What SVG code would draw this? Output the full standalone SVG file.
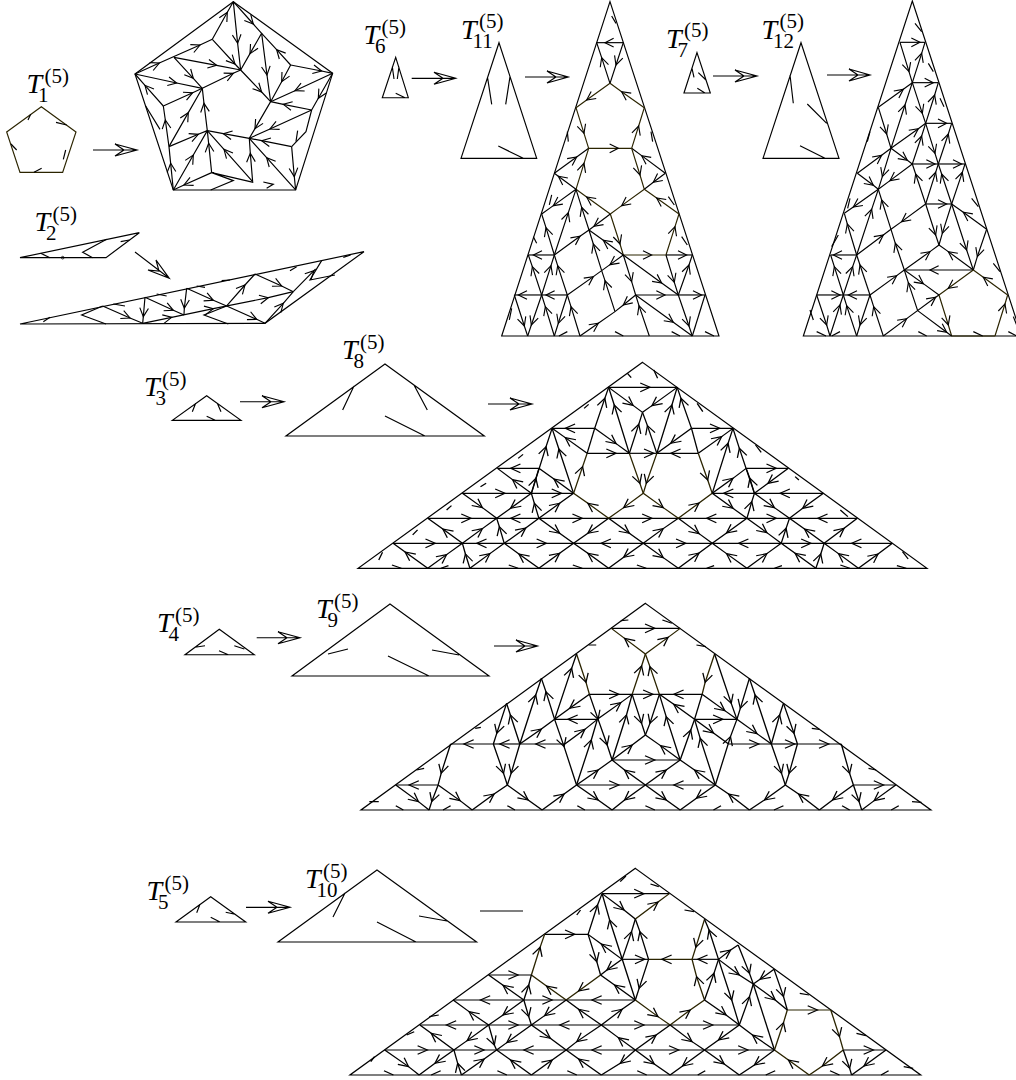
<svg xmlns="http://www.w3.org/2000/svg" width="1016" height="1080" viewBox="0 0 1016 1080">
<style>
text{font-family:"Liberation Serif","Times New Roman",serif;fill:#000}
.t{font-size:28px;font-style:italic}
.s{font-size:21px}
.g{fill:none;stroke:#000;stroke-width:3.5;stroke-linejoin:miter;marker-mid:url(#h)}
.n{marker:none}
.o{stroke:#2b2400}
.c{fill:none;stroke:#000;stroke-width:1.15}
</style>
<defs>
<marker id="h" markerUnits="userSpaceOnUse" orient="auto" markerWidth="1" markerHeight="1" refX="0" refY="0" style="overflow:visible"><path d="M-26-13L0 0L-26 13" fill="none" stroke="#000" stroke-width="3.4"/></marker>
</defs>
<rect width="1016" height="1080" fill="#fff"/>

<g id="T1">
<text><tspan class="t" x="26.500" y="93">T</tspan><tspan class="s" x="38" y="102">1</tspan><tspan class="s" x="44.500" y="83">(5)</tspan></text>
<g class="g" transform="scale(.3333)">
<path class="n o" d="M124 320 228 396 188 517 60 517 20 396Z"/>
<path class="n" d="M92 343 84 360M168 367 200 375M190 478 197 450M33 432 50 450M102 517 125 505"/>
</g>
</g>
<g id="T1-tiling" class="g" transform="scale(.3333)">
<path class="n" d="M700 5 998 220 887 570 520 570 405 222Z"/>
<path d="M405 222 530 249 607 265"/>
<path d="M405 222 478 189 600 135 637 118"/>
<path d="M637 118 682 37 700 5"/>
<path d="M700 5 713 130 722 210"/>
<path d="M637 118 705 192 722 210"/>
<path d="M522 172 650 196 722 210"/>
<path d="M522 172 580 235 607 265"/>
<path d="M490 318 578 278 607 265"/>
<path d="M607 265 700 220 722 210"/>
<path d="M490 318 435 256 405 222"/>
<path d="M507 440 496 360 490 318"/>
<path class="n" d="M437 318 480 388M893 392 888 425"/>
<path d="M507 440 565 338 607 265"/>
<path d="M622 392 612 310 607 265"/>
<path d="M507 440 595 403 622 392"/>
<path d="M520 570 512 490 507 440"/>
<path d="M520 570 580 465 622 392"/>
<path d="M635 518 626 430 622 392"/>
<path d="M635 518 552 555 520 570"/>
<path d="M758 545 672 448 622 392"/>
<path class="n" d="M635 518 700 542 632 570M635 518 760 547M790 546 820 553 800 565"/>
<path d="M758 545 751 460 748 415"/>
<path d="M887 570 800 473 748 415"/>
<path d="M748 415 670 401 622 392"/>
<path d="M875 440 785 422 748 415"/>
<path d="M875 440 883 530 887 570"/>
<path class="n" d="M875 440 918 395 935 330"/>
<path d="M935 330 810 387 748 415"/>
<path d="M812 305 765 386 748 415"/>
<path d="M935 330 850 313 812 305"/>
<path d="M998 220 885 272 812 305"/>
<path d="M722 210 785 276 812 305"/>
<path d="M785 100 801 225 812 305"/>
<path d="M785 100 750 161 722 210"/>
<path d="M872 195 830 149 785 100"/>
<path d="M872 195 845 245 812 305"/>
<path d="M872 195 965 213 998 220"/>
<path d="M998 220 955 295 935 330"/>
<path d="M700 5 760 72 785 100"/>
</g>

<g id="T2">
<text><tspan class="t" x="34.500" y="231">T</tspan><tspan class="s" x="46" y="240">2</tspan><tspan class="s" x="52.500" y="221">(5)</tspan></text>
<g class="g" transform="translate(0 200) scale(.3333)">
<path class="n" d="M60 173 418 98 318 173Z"/>
<path class="n" d="M122 160 150 173M320 118 248 157 278 173M362 125 388 120"/>
<circle cx="188" cy="173" r="4" class="n" stroke-width="2.4"/>
</g>
</g>
<g id="T2-tiling" class="g" transform="translate(0 200) scale(.3333)">
<path class="n" d="M60 372 1092 155 795 370Z"/>
<path d="M795 370 850 310 880 275"/>
<path d="M880 275 942 212 947 207"/>
<path class="n" d="M965 182 930 240 1005 225M1030 172 1052 165"/>
<path d="M680 318 735 255 765 222"/>
<path d="M765 222 845 258 880 275"/>
<path d="M680 318 770 358 795 370"/>
<path d="M428 370 515 352 640 326 805 293 880 275"/>
<path d="M560 265 553 325 552 345"/>
<path d="M560 265 640 301 680 318"/>
<path d="M435 292 430 350 428 370"/>
<path d="M435 292 520 331 552 345"/>
<path d="M308 318 390 354 428 370"/>
<path class="n" d="M308 318 245 345 318 372M680 318 612 345 685 372M130 365 150 352M470 282 500 288M340 312 375 318M590 258 615 262M665 242 690 240M870 212 890 200"/>
</g>

<g id="T3">
<text><tspan class="t" x="144" y="396">T</tspan><tspan class="s" x="155.500" y="405">3</tspan><tspan class="s" x="162" y="386">(5)</tspan></text>
<g class="g n" transform="translate(130 340) scale(.3333)">
<path class="n" d="M230 167 333 241 127 241ZM187 215 197 190M262 190 273 215M230 229 256 241"/>
</g>
</g>
<g id="T8">
<text><tspan class="t" x="342" y="359">T</tspan><tspan class="s" x="353.500" y="368">8</tspan><tspan class="s" x="360" y="349">(5)</tspan></text>
<g class="g n" transform="translate(130 340) scale(.3333)">
<path class="n" d="M765 72 1063 288 468 288ZM672 138 638 210M852 135 892 210M765 228 885 288"/>
</g>
</g>
<g id="T8-tiling" class="g" transform="translate(350.5 355) scale(.3768 .3333)">
<path class="n" d="M775 22 1530 640 20 640Z"/>
<path d="M685 97 795 97 867 97"/>
<path d="M648 220 570 220 535 220"/>
<path d="M905 220 980 220 1015 220"/>
<path d="M628 295 705 295 740 295"/><path d="M740 295 805 295 813 295"/><path d="M923 295 850 295 813 295"/>
<path d="M500 340 425 340 390 340"/><path d="M1050 340 1130 340 1162 340"/>
<path d="M297 415 410 415 480 415"/><path d="M480 415 560 415 592 415"/><path d="M1255 415 1140 415 1072 415"/><path d="M1072 415 990 415 960 415"/>
<path d="M205 490 320 490 388 490"/><path d="M500 490 425 490 388 490"/><path d="M500 490 615 490 685 490"/><path d="M685 490 800 490 870 490"/><path d="M1052 490 945 490 870 490"/><path d="M1052 490 1130 490 1165 490"/><path d="M1345 490 1240 490 1165 490"/>
<path d="M113 565 225 565 297 565"/><path d="M408 565 335 565 297 565"/><path d="M408 565 520 565 592 565"/><path d="M777 565 665 565 592 565"/><path d="M777 565 890 565 960 565"/><path d="M1143 565 1030 565 960 565"/><path d="M1143 565 1222 565 1257 565"/><path d="M1438 565 1330 565 1257 565"/>
<path d="M205 640 145 591 113 565"/><path d="M205 640 255 599 297 565"/><path d="M317 640 305 597 297 565"/><path d="M317 640 370 596 408 565"/><path d="M500 640 447 597 408 565"/><path d="M500 640 555 595 592 565"/><path d="M685 640 630 595 592 565"/><path d="M777 565 725 607 685 640"/><path d="M777 565 830 608 870 640"/><path d="M870 640 925 594 960 565"/><path d="M1052 640 998 596 960 565"/><path d="M1052 640 1105 596 1143 565"/><path d="M1235 640 1180 595 1143 565"/><path d="M1235 640 1248 597 1257 565"/><path d="M1348 640 1295 596 1257 565"/><path d="M1348 640 1400 597 1438 565"/>
<path d="M297 565 245 522 205 490"/><path d="M297 565 350 521 388 490"/><path d="M408 565 395 515 388 490"/><path d="M408 565 465 519 500 490"/><path d="M500 490 555 535 592 565"/><path d="M685 490 630 535 592 565"/><path d="M685 490 740 535 777 565"/><path d="M777 565 830 521 870 490"/><path d="M870 490 925 536 960 565"/><path d="M1052 490 998 534 960 565"/><path d="M1052 490 1105 533 1143 565"/><path d="M1143 565 1156 520 1165 490"/><path d="M1257 565 1205 522 1165 490"/><path d="M1257 565 1310 520 1345 490"/>
<path d="M297 415 350 458 388 490"/><path d="M480 415 425 460 388 490"/><path d="M500 490 488 445 480 415"/><path d="M500 490 555 445 592 415"/><path class="o" d="M685 490 630 445 592 415"/><path class="o" d="M777 415 725 458 685 490"/><path class="o" d="M777 415 830 458 870 490"/><path class="o" d="M870 490 925 444 960 415"/><path d="M960 415 1015 460 1052 490"/><path d="M1052 490 1065 440 1072 415"/><path d="M1072 415 1125 458 1165 490"/><path d="M1255 415 1200 460 1165 490"/>
<path d="M480 415 430 374 390 340"/><path d="M592 415 540 372 500 340"/><path d="M480 415 492 370 500 340"/><path d="M960 415 1015 370 1050 340"/><path d="M1072 415 1060 370 1050 340"/><path d="M1162 340 1108 385 1072 415"/>
<path d="M480 415 519 275 535 220"/><path d="M592 415 553 282 535 220"/><path class="o" d="M592 415 616 335 628 295"/><path class="n" d="M628 295 648 220"/><path d="M648 220 705 266 740 295"/><path d="M628 295 570 248 535 220"/><path d="M648 220 675 130 685 97"/><path d="M740 295 700 150 685 97"/><path d="M685 97 750 151 775 172"/><path d="M867 97 800 152 775 172"/><path d="M813 295 853 150 867 97"/><path d="M740 295 765 208 775 172"/><path d="M813 295 788 212 775 172"/><path d="M905 220 850 265 813 295"/><path d="M923 295 985 245 1015 220"/><path d="M905 220 877 130 867 97"/><path class="n" d="M905 220 923 295"/><path class="o" d="M923 295 948 375 960 415"/><path d="M960 415 1002 265 1015 220"/><path d="M1072 415 1032 280 1015 220"/><path class="o" d="M740 295 768 385 777 415"/><path class="o" d="M813 295 785 385 777 415"/>
<path class="n" d="M75 615 85 592M165 540 178 525M255 465 268 452M345 395 360 385M445 310 458 298M620 160 632 148M735 55 745 68M805 45 815 70M920 145 935 170M1075 270 1090 292M1180 365 1190 375M1300 465 1320 485M1465 590 1480 612M110 630 135 640M240 640 260 632M420 630 445 640M590 630 615 640M760 630 785 640M945 640 965 632M1125 640 1145 632M1300 630 1325 640M1450 632 1475 640"/>
</g>

<g id="T4">
<text><tspan class="t" x="157" y="632">T</tspan><tspan class="s" x="168.500" y="641">4</tspan><tspan class="s" x="175" y="622">(5)</tspan></text>
<path class="c" d="M219.300 629.300 254.300 654.700 185 654.700ZM195 647.300 205 645.700M234.300 645.700 244.300 649M219 650.700 228.300 654.700"/>
</g>
<g id="T9">
<text><tspan class="t" x="316" y="618">T</tspan><tspan class="s" x="327.500" y="627">9</tspan><tspan class="s" x="334" y="608">(5)</tspan></text>
<path class="c" d="M390 604 489 676 292 676ZM328 654 348 649M432 650 459 655M388 656 429 676"/>
</g>
<g id="T9-tiling" class="g" transform="translate(348.5 595) scale(.3782 .3333)">
<path class="n" d="M785 25 1540 645 33 645Z"/>
<path d="M695 100 810 100 877 100"/>
<path d="M637 298 715 298 750 298"/><path d="M750 298 805 298 822 298"/><path d="M935 298 860 298 822 298"/>
<path d="M658 373 580 373 545 373"/><path d="M915 373 990 373 1027 373"/>
<path d="M453 447 400 447 383 447"/><path d="M572 447 495 447 453 447"/><path d="M383 447 305 447 270 447"/>
<path d="M1005 447 1085 447 1118 447"/><path d="M1118 447 1180 447 1187 447"/><path d="M1187 447 1270 447 1303 447"/>
<path d="M697 495 810 495 877 495"/>
<path d="M237 570 160 570 125 570"/><path d="M603 570 715 570 785 570"/><path d="M970 570 860 570 785 570"/><path d="M1335 570 1415 570 1447 570"/>
<path class="o" d="M785 177 730 130 695 100"/><path class="o" d="M785 177 845 127 877 100"/>
<path class="o" d="M750 298 775 213 785 177"/><path class="o" d="M822 298 797 215 785 177"/>
<path class="o" d="M603 177 628 262 637 298"/><path class="o" d="M968 177 943 262 935 298"/>
<path d="M637 298 585 340 545 373"/>
<path d="M637 298 660 373 684 450 697 495"/>
<path d="M658 373 720 323 750 298"/>
<path d="M750 298 775 385 785 420"/><path d="M822 298 797 385 785 420"/>
<path d="M915 373 860 328 822 298"/>
<path d="M877 495 840 365 822 298"/>
<path d="M935 298 995 347 1027 373"/>
<path class="n" d="M935 298 915 373"/>
<path d="M877 495 905 405 915 373"/>
<path d="M545 373 590 220 603 177"/>
<path d="M545 373 522 290 510 250"/>
<path d="M453 447 495 300 510 250"/>
<path d="M453 447 428 360 418 325"/>
<path d="M418 325 392 415 383 447"/>
<path d="M453 447 510 402 545 373"/>
<path d="M545 373 570 455 603 570"/>
<path d="M572 447 625 403 658 373"/>
<path d="M603 570 642 435 658 373"/>
<path d="M383 447 410 535 420 570"/>
<path d="M453 447 430 535 420 570"/>
<path d="M697 495 750 450 785 420"/>
<path d="M877 495 825 452 785 420"/>
<path d="M697 495 735 360 750 298"/>
<path d="M970 570 930 430 915 373"/>
<path d="M970 570 1010 425 1027 373"/>
<path d="M915 373 965 414 1005 447"/>
<path d="M1027 373 1080 416 1118 447"/>
<path d="M968 177 1012 325 1027 373"/>
<path d="M1060 250 1036 340 1027 373"/>
<path d="M1118 447 1075 300 1060 250"/>
<path d="M1118 447 1140 360 1150 325"/>
<path d="M1150 325 1178 415 1187 447"/>
<path d="M1187 447 1165 535 1155 570"/>
<path d="M1118 447 1145 535 1155 570"/>
<path d="M270 447 245 535 237 570"/>
<path d="M1303 447 1325 535 1335 570"/>
<path d="M1335 570 1350 620 1357 645"/>
<path d="M237 570 220 620 213 645"/>
<path d="M125 570 185 620 213 645"/>
<path d="M237 570 295 617 327 645"/>
<path d="M327 645 385 597 420 570"/>
<path d="M420 570 475 615 512 645"/>
<path d="M512 645 570 597 603 570"/>
<path d="M603 570 660 615 697 645"/>
<path d="M785 570 730 615 697 645"/>
<path d="M785 570 840 615 877 645"/>
<path d="M970 570 920 610 877 645"/>
<path d="M1060 645 1005 597 970 570"/>
<path d="M1155 570 1100 615 1060 645"/>
<path d="M1245 645 1190 597 1155 570"/>
<path d="M1335 570 1280 615 1245 645"/>
<path d="M1447 570 1390 617 1357 645"/>
<path d="M603 570 660 525 697 495"/>
<path d="M785 570 730 525 697 495"/>
<path d="M785 570 840 525 877 495"/>
<path d="M970 570 915 525 877 495"/>
<path class="n" d="M635 150 655 150M920 150 945 155M740 75 720 77M830 75 855 85M335 400 350 397M180 525 200 520M55 620 80 620M1225 400 1245 403M1375 520 1395 525M1490 620 1515 622M125 632 145 645M250 645 270 632M420 632 440 645M605 632 625 645M785 632 810 645M965 645 985 632M1125 645 1150 632M1305 632 1325 645M1435 645 1455 632"/>
</g>

<g id="T5">
<text><tspan class="t" x="146.500" y="900">T</tspan><tspan class="s" x="158" y="909">5</tspan><tspan class="s" x="164.500" y="890">(5)</tspan></text>
<path class="c" d="M210.700 896.700 245.700 922 176 922ZM200 904.300 196.700 912.700M225.700 912.300 235 914.300M210.700 917.300 220 922"/>
</g>
<g id="T10">
<text><tspan class="t" x="305" y="888">T</tspan><tspan class="s" x="316.500" y="897">10</tspan><tspan class="s" x="323" y="878">(5)</tspan></text>
<path class="c" d="M377 870 476.600 942 278 942ZM345 893 333 917M419 916 447 921M377 922 416 942"/>
</g>
<g id="T10-tiling" class="g" transform="translate(340.500 860) scale(.378 .3333)">
<path class="n" d="M780 25 1535 645 25 645Z"/>
<path d="M692 101 803 101 870 101"/>
<path d="M540 223 620 223 655 223"/>
<path d="M745 298 805 298 815 298"/><path class="o" d="M930 298 850 298 815 298"/><path d="M1000 298 945 298 930 298"/>
<path d="M392 345 470 345 505 345"/>
<path d="M780 420 665 420 597 420"/><path d="M485 420 560 420 597 420"/><path d="M485 420 370 420 298 420"/>
<path class="o" d="M1182 450 1262 450 1297 450"/>
<path d="M392 495 280 495 210 495"/><path d="M392 495 470 495 505 495"/><path d="M690 495 580 495 505 495"/><path d="M690 495 803 495 872 495"/><path d="M872 495 985 495 1055 495"/>
<path d="M117 570 230 570 300 570"/><path d="M300 570 380 570 413 570"/><path d="M597 570 485 570 413 570"/><path d="M780 570 665 570 597 570"/><path d="M780 570 895 570 963 570"/><path d="M963 570 1078 570 1148 570"/><path d="M1330 570 1410 570 1443 570"/>
<path d="M692 101 750 150 780 177"/><path class="o" d="M780 177 840 126 870 101"/>
<path d="M655 223 680 135 692 101"/>
<path d="M780 420 712 180 692 101"/>
<path d="M745 298 770 215 780 177"/>
<path d="M815 298 792 215 780 177"/>
<path d="M815 298 790 385 780 420"/>
<path d="M655 223 678 305 688 345"/>
<path d="M745 298 690 252 655 223"/>
<path d="M745 298 705 330 688 345"/>
<path class="o" d="M688 345 630 393 597 420"/>
<path d="M780 420 725 375 688 345"/>
<path class="o" d="M505 345 528 262 540 223"/>
<path class="o" d="M597 420 545 378 505 345"/>
<path d="M485 420 498 375 505 345"/>
<path d="M485 420 430 376 392 345"/>
<path d="M485 420 498 470 505 495"/>
<path d="M597 420 540 467 505 495"/>
<path d="M690 495 630 448 597 420"/>
<path d="M690 495 745 448 780 420"/>
<path class="o" d="M780 420 840 470 872 495"/>
<path class="o" d="M872 495 925 450 963 420"/>
<path d="M392 495 340 455 298 420"/>
<path d="M485 420 430 465 392 495"/>
<path class="o" d="M963 178 940 262 930 298"/>
<path class="o" d="M963 420 942 350 930 298"/>
<path d="M963 420 988 340 1000 298"/>
<path d="M1000 298 975 210 963 178"/>
<path d="M1000 298 1035 420 1055 495"/>
<path d="M1000 298 1032 270 1052 255"/>
<path d="M1052 255 1082 340 1092 372"/>
<path d="M1000 298 1055 345 1092 372"/>
<path d="M1055 495 1082 410 1092 372"/>
<path class="n" d="M1092 372 1148 570"/>
<path d="M1092 372 1150 420 1182 450"/>
<path d="M1147 328 1110 358 1092 372"/>
<path d="M1147 328 1172 410 1182 450"/>
<path d="M963 420 1020 465 1055 495"/>
<path class="o" d="M1148 570 1172 488 1182 450"/>
<path d="M1055 495 1000 540 963 570"/>
<path d="M1148 570 1090 525 1055 495"/>
<path class="o" d="M1240 645 1185 600 1148 570"/>
<path class="o" d="M1330 570 1275 618 1240 645"/>
<path class="o" d="M1297 450 1320 530 1330 570"/>
<path d="M1330 570 1347 625 1352 645"/>
<path d="M1443 570 1385 618 1352 645"/>
<path d="M780 570 835 525 872 495"/>
<path d="M872 495 930 545 963 570"/>
<path d="M690 495 625 545 597 570"/>
<path d="M780 570 735 533 690 495"/>
<path d="M505 495 440 548 413 570"/>
<path d="M505 495 555 535 597 570"/>
<path d="M392 495 335 542 300 570"/>
<path d="M392 495 407 555 413 570"/>
<path d="M300 570 240 520 210 495"/>
<path d="M117 570 180 620 208 645"/>
<path d="M300 570 250 610 208 645"/>
<path d="M320 645 310 610 300 570"/>
<path d="M320 645 380 597 413 570"/>
<path d="M505 645 450 600 413 570"/>
<path d="M505 645 560 600 597 570"/>
<path d="M690 645 630 597 597 570"/>
<path d="M780 570 740 610 690 645"/>
<path d="M780 570 830 612 872 645"/>
<path d="M963 570 905 618 872 645"/>
<path d="M963 570 1015 612 1055 645"/>
<path d="M1148 570 1095 615 1055 645"/>
<path class="n" d="M80 605 90 590M175 525 195 515M235 470 260 465M625 165 635 150M740 65 755 48M820 72 842 80M910 150 935 155M1215 400 1240 405M1365 520 1390 527M1490 620 1515 625M115 632 140 645M240 645 265 632M415 632 440 645M600 632 625 645M785 632 810 645M945 645 965 632M1125 645 1150 632M1295 632 1320 645M1430 645 1450 632"/>
</g>

<g id="T6">
<text><tspan class="t" x="363.500" y="43.500">T</tspan><tspan class="s" x="375" y="53">6</tspan><tspan class="s" x="381.500" y="33.500">(5)</tspan></text>
<path class="c" d="M395.700 57.300 408.300 97.700 382.300 97.700ZM392.300 66.700 394 79M399 66.700 397.300 79M395.700 93.300 405 97.700"/>
</g>
<g id="T11">
<text><tspan class="t" x="461" y="38.500">T</tspan><tspan class="s" x="472.500" y="47.500">11</tspan><tspan class="s" x="479" y="28">(5)</tspan></text>
<path class="c" d="M499 42.700 536.700 158.300 461 158.300ZM487.700 78.300 491.700 104.300M510 76.700 505.700 104.300M498.300 146 523.300 158.300"/>
</g>
<g id="T11-tiling" class="g" transform="translate(490 0) scale(.3333)">
<path class="n" d="M360 5 687 1008 35 1008Z"/>
<path d="M400 128 345 128 320 128"/>
<path d="M360 250 335 173 320 128"/>
<path d="M400 128 378 195 360 250"/>
<path class="o" d="M360 250 290 300 258 323"/>
<path class="o" d="M463 323 395 275 360 250"/>
<path class="o" d="M258 323 282 400 296 445"/>
<path class="o" d="M425 445 446 378 463 323"/>
<path class="o" d="M296 445 385 445 425 445"/>
<path d="M193 520 260 471 296 445"/>
<path class="o" d="M258 568 282 490 296 445"/>
<path d="M526 520 455 467 425 445"/>
<path class="o" d="M425 445 450 525 463 568"/>
<path d="M526 520 490 547 463 568"/>
<path class="o" d="M463 568 395 617 361 642"/>
<path class="o" d="M567 642 500 594 463 568"/>
<path d="M258 568 205 529 193 520"/>
<path d="M258 568 190 617 155 642"/>
<path class="o" d="M361 642 290 591 258 568"/>
<path class="o" d="M361 642 390 732 400 765"/>
<path class="o" d="M528 765 555 680 567 642"/>
<path d="M361 642 312 679 297 690"/>
<path d="M193 765 270 709 297 690"/>
<path class="o" d="M400 765 485 765 528 765"/>
<path d="M528 765 590 765 607 765"/>
<path d="M193 765 168 683 155 642"/>
<path d="M193 765 235 638 258 568"/>
<path d="M297 690 275 622 258 568"/>
<path d="M335 812 310 732 297 690"/>
<path d="M400 765 340 721 297 690"/>
<path d="M400 765 515 849 565 885"/>
<path d="M400 765 360 794 335 812"/>
<path d="M400 765 425 845 437 885"/>
<path d="M232 885 310 830 335 812"/>
<path d="M375 935 345 842 335 812"/>
<path d="M193 765 130 765 115 765"/>
<path d="M155 885 127 800 115 765"/>
<path d="M155 885 183 797 193 765"/>
<path d="M232 885 203 797 193 765"/>
<path d="M270 1008 243 920 232 885"/>
<path d="M155 885 85 885 73 885"/>
<path d="M232 885 168 885 155 885"/>
<path d="M73 885 103 978 113 1008"/>
<path d="M155 885 124 975 113 1008"/>
<path d="M193 1008 166 920 155 885"/>
<path d="M232 885 205 970 193 1008"/>
<path d="M270 1008 325 970 375 935"/>
<path d="M437 885 400 915 375 935"/>
<path d="M437 885 550 967 607 1008"/>
<path d="M478 1008 447 917 437 885"/>
<path d="M437 885 525 885 565 885"/>
<path d="M565 885 635 885 645 885"/>
<path d="M528 765 553 847 565 885"/>
<path d="M565 885 597 795 607 765"/>
<path d="M565 885 597 978 607 1008"/>
<path class="n" d="M645 885 607 1008"/>
<path class="n" d="M365 48 378 70M483 395 488 425M535 590 553 615M575 710 592 735M232 395 235 425M178 615 185 585M130 710 140 730M65 925 58 960M207 1008 232 995M375 995 400 1008M545 995 570 1008M645 995 672 1008"/>
</g>

<g id="T7">
<text><tspan class="t" x="666" y="47.500">T</tspan><tspan class="s" x="677.500" y="56.500">7</tspan><tspan class="s" x="684" y="37">(5)</tspan></text>
<g class="g n" transform="translate(490 0) scale(.3333)">
<path class="n" d="M621 158 661 279 582 279ZM606 205 612 232M625 218 648 240M622 265 645 279"/>
</g>
</g>
<g id="T12">
<text><tspan class="t" x="761.500" y="38.500">T</tspan><tspan class="s" x="773" y="47.500">12</tspan><tspan class="s" x="779.500" y="28">(5)</tspan></text>
<path class="c" d="M801 42.700 839 158.300 763 158.300ZM790 75 793.300 103.300M807.300 104 826.700 123.300M800 145.700 825 158.300"/>
</g>
<g id="T12-tiling" class="g" transform="translate(790 0) scale(.3333)">
<path class="n" d="M367 3 695 1008 40 1008Z"/>
<path d="M330 127 390 127 405 127"/>
<path d="M330 127 357 215 367 248"/>
<path d="M367 248 395 160 405 127"/>
<path d="M367 248 430 248 445 248"/>
<path d="M265 322 340 268 367 248"/>
<path d="M367 248 397 340 407 370"/>
<path d="M407 370 434 285 445 248"/>
<path d="M407 370 470 370 485 370"/>
<path d="M265 322 290 402 303 445"/>
<path d="M303 445 345 315 367 248"/>
<path d="M303 445 385 386 407 370"/>
<path d="M367 492 395 408 407 370"/>
<path d="M407 370 435 460 445 492"/>
<path d="M445 492 475 402 485 370"/>
<path d="M303 445 352 481 367 492"/>
<path d="M202 520 275 466 303 445"/>
<path d="M303 445 277 530 265 568"/>
<path d="M202 520 250 556 265 568"/>
<path d="M367 492 300 542 265 568"/>
<path d="M265 568 190 621 163 640"/>
<path d="M367 492 435 492 445 492"/>
<path d="M445 492 515 492 525 492"/>
<path d="M407 612 377 522 367 492"/>
<path d="M407 612 437 517 445 492"/>
<path d="M485 612 455 522 445 492"/>
<path d="M485 612 517 517 525 492"/>
<path d="M407 612 470 612 485 612"/>
<path d="M407 612 335 665 303 688"/>
<path d="M407 612 437 705 447 735"/>
<path d="M485 612 457 700 447 735"/>
<path d="M485 612 530 750 550 810"/>
<path d="M590 688 520 637 485 612"/>
<path d="M590 688 562 770 550 810"/>
<path d="M303 688 275 600 265 568"/>
<path d="M200 765 245 628 265 568"/>
<path d="M200 765 172 672 163 640"/>
<path d="M200 765 280 705 303 688"/>
<path d="M343 810 316 730 303 688"/>
<path d="M200 765 130 765 122 765"/>
<path d="M160 885 133 800 122 765"/>
<path d="M160 885 188 800 200 765"/>
<path d="M240 885 210 795 200 765"/>
<path d="M343 810 420 755 447 735"/>
<path d="M550 810 475 755 447 735"/>
<path d="M550 810 420 810 343 810"/>
<path class="o" d="M550 810 475 865 447 885"/>
<path class="o" d="M653 885 580 832 550 810"/>
<path class="o" d="M447 885 475 975 485 1008"/>
<path class="o" d="M615 1008 645 912 653 885"/>
<path d="M240 885 320 827 343 810"/>
<path d="M383 932 355 848 343 810"/>
<path d="M343 810 400 851 447 885"/>
<path d="M280 1008 350 956 437 892 447 885"/>
<path d="M383 932 470 997 485 1008"/>
<path d="M280 1008 251 920 240 885"/>
<path d="M240 885 175 885 160 885"/>
<path d="M80 885 150 885 160 885"/>
<path d="M80 885 110 975 120 1008"/>
<path d="M120 1008 150 915 160 885"/>
<path d="M200 1008 170 917 160 885"/>
<path d="M240 885 210 975 200 1008"/>
<path class="n o" d="M485 1008 615 1008"/>
<path class="n" d="M415 190 430 215M375 70 395 95M450 295 462 320M545 595 565 620M610 790 630 815M670 950 680 975M145 705 125 740M180 595 173 625M60 930 70 960M240 395 232 425M80 995 108 1008M150 995 125 1008M385 995 410 1008M550 995 578 1008M655 995 680 1008"/>
</g>

<g id="connectors">
<g class="c">
<path d="M93 150H137M115 144 137 150 115 156 124 150Z"/>
<path d="M135 252 169.300 278.300M148 270 169.300 278.300 156 260 159 271Z"/>
<path d="M411.700 78.300H455.700M434 72.300 455.700 78.300 434 84.300 443 78.300Z"/>
<path d="M525 77H568.300M547 71 568.300 77 547 83 556 77Z"/>
<path d="M713 76H757M735 70 757 76 735 82 744 76Z"/>
<path d="M827 75H870M849 69 870 75 849 81 858 75Z"/>
<path d="M240 401.700H284M262 395.700 284 401.700 262 407.700 271 401.700Z"/>
<path d="M488 404H532M510 398 532 404 510 410 519 404Z"/>
<path d="M256.700 637.700H300M278 631.700 300 637.700 278 643.700 287 637.700Z"/>
<path d="M494 646H537.500M516 640 537.500 646 516 652 525 646Z"/>
<path d="M246 907.300H290M268 901.300 290 907.300 268 913.300 277 907.300Z"/>
<path d="M480 911H523"/>
</g>
</g>
</svg>
